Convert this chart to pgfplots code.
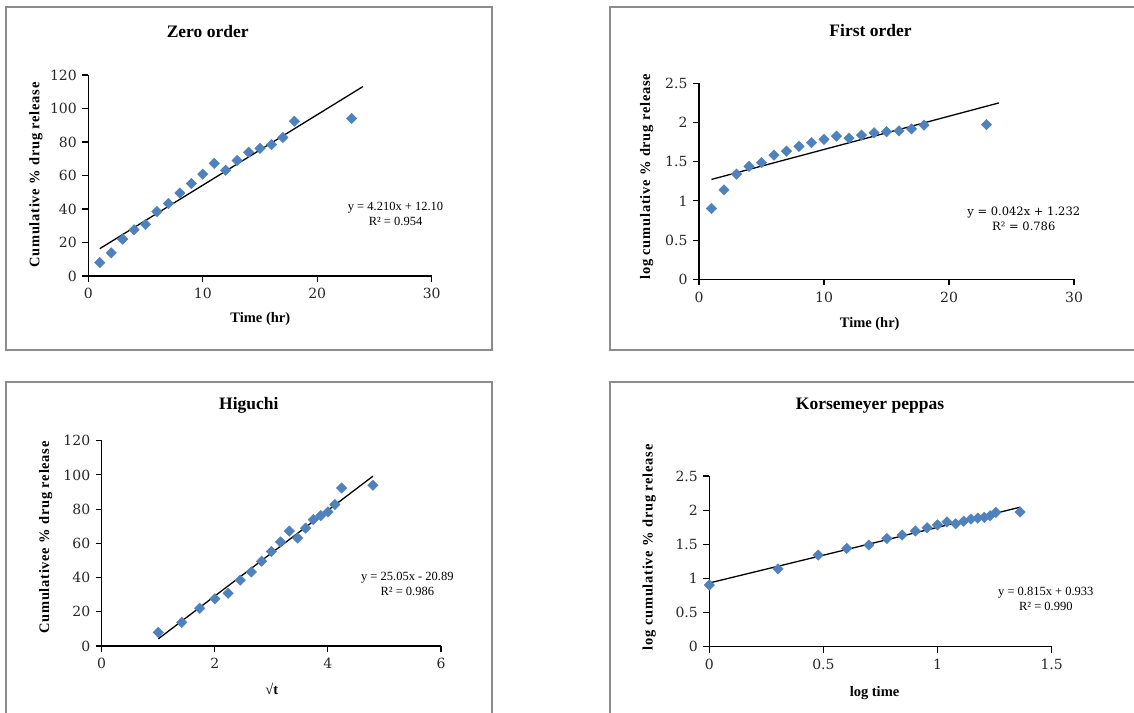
\documentclass[border=0pt]{standalone}
\usepackage{fontspec}
\setmainfont{Liberation Serif}
\newfontfamily\tickfont{DejaVu Serif}
\usepackage{pgfplots}
\usepackage{pgfplotstable}
\pgfplotsset{compat=1.18}
\definecolor{mkblue}{HTML}{4F81BD}
\definecolor{bordergray}{HTML}{8C8C8C}

\pgfplotstableread{
t sq logt cdr logcdr
1 1.000 0.000 8.0 0.903
2 1.414 0.301 13.8 1.140
3 1.732 0.477 22.0 1.342
4 2.000 0.602 27.6 1.441
5 2.236 0.699 30.8 1.489
6 2.449 0.778 38.5 1.585
7 2.646 0.845 43.3 1.636
8 2.828 0.903 49.6 1.695
9 3.000 0.954 55.2 1.742
10 3.162 1.000 60.8 1.784
11 3.317 1.041 67.2 1.827
12 3.464 1.079 63.1 1.800
13 3.606 1.114 68.9 1.838
14 3.742 1.146 73.9 1.869
15 3.873 1.176 76.2 1.882
16 4.000 1.204 78.4 1.894
17 4.123 1.230 82.7 1.918
18 4.243 1.255 92.4 1.966
23 4.796 1.362 94.0 1.973
}\drugdata

\pgfplotsset{
  myax/.style={
    scale only axis, axis lines=left,
    axis line style={-, line width=1.3pt, black},
    tick style={line width=1.1pt, black},
    tick align=outside, major tick length=6pt,
    clip=false,
    ticklabel style={font=\tickfont\fontsize{14}{16}\selectfont, text=black!85},
    xticklabel style={yshift=-3pt},
    yticklabel style={xshift=-2pt},
    /pgf/number format/assume math mode=true,
    xmin=0, ymin=0,
  },
  mk/.style={only marks, mark=square*, mark size=3.7pt, mark options={rotate=45, fill=mkblue, draw=mkblue}},
  trend/.style={black, line width=1.3pt, no marks},
}

\newcommand\ttl{\fontsize{17.5}{20}\selectfont\bfseries}
\newcommand\lbl{\fontsize{14.5}{16}\selectfont\bfseries}
\newcommand\ylbl{\fontsize{14.5}{16}\selectfont\bfseries\addfontfeature{LetterSpace=5}}

\begin{document}
\begin{tikzpicture}
\useasboundingbox (0pt,0pt) rectangle (1134pt,712pt);
% borders
\draw[bordergray, line width=1.5pt] (6pt,705pt) rectangle (492pt,362pt);
\draw[bordergray, line width=1.5pt] (610pt,705pt) rectangle (1145pt,362pt);
\draw[bordergray, line width=1.5pt] (6pt,330pt) rectangle (492pt,-10pt);
\draw[bordergray, line width=1.5pt] (610pt,330pt) rectangle (1145pt,-10pt);

% Panel 1: Zero order
\begin{axis}[myax, at={(88.3pt,436pt)}, anchor=south west, width=343.4pt, height=201pt,
  xmax=30, ymax=120, xtick={0,10,20,30}, ytick={0,20,...,120}]
\addplot[mk] table[x=t, y=cdr]{\drugdata};
\addplot[trend] coordinates {(1,16.31) (24,113.14)};
\end{axis}

% Panel 2: First order
\begin{axis}[myax, at={(699pt,432.7pt)}, anchor=south west, width=375pt, height=196pt,
  xmax=30, ymax=2.5, xtick={0,10,20,30}, ytick={0,0.5,...,2.5}]
\addplot[mk] table[x=t, y=logcdr]{\drugdata};
\addplot[trend] coordinates {(1,1.274) (24,2.25)};
\end{axis}

% Panel 3: Higuchi
\begin{axis}[myax, at={(101.7pt,66pt)}, anchor=south west, width=339.3pt, height=205.3pt,
  xmax=6, ymax=120, xtick={0,2,4,6}, ytick={0,20,...,120}]
\addplot[mk] table[x=sq, y=cdr]{\drugdata};
\addplot[trend] coordinates {(1,4.16) (4.796,99.25)};
\end{axis}

% Panel 4: Korsemeyer peppas
\begin{axis}[myax, at={(709.3pt,65.3pt)}, anchor=south west, width=342.4pt, height=170.7pt,
  xmax=1.5, ymax=2.5, xtick={0,0.5,1,1.5}, ytick={0,0.5,...,2.5}]
\addplot[mk] table[x=logt, y=logcdr]{\drugdata};
\addplot[trend] coordinates {(0,0.933) (1.362,2.043)};
\end{axis}

% texts
\node at (207.7pt,680.3pt) {\ttl Zero order};
\node at (260.3pt,392.7pt) {\lbl Time (hr)};
\node[rotate=90] at (36pt,537pt) {\ylbl Cumulative \% drug release};
\node[align=center, font=\fontsize{12.5}{15}\selectfont] at (395.5pt,498pt) {y = 4.210x + 12.10\\R² = 0.954};

\node at (870.5pt,681pt) {\ttl First order};
\node at (869.7pt,388pt) {\lbl Time (hr)};
\node[rotate=90] at (646.7pt,535.3pt) {\ylbl log cumulative \% drug release};
\node[align=center, font=\tickfont\fontsize{11.5}{15}\selectfont] at (1023.8pt,493.5pt) {y = 0.042x + 1.232\\R² = 0.786};

\node at (248.8pt,306.3pt) {\ttl Higuchi};
\node at (271.7pt,22.7pt) {\lbl √t};
\node[rotate=90] at (45.7pt,174.5pt) {\ylbl Cumulativee \% drug release};
\node[align=center, font=\fontsize{12.5}{15}\selectfont] at (407.3pt,128pt) {y = 25.05x - 20.89\\R² = 0.986};

\node at (870pt,306pt) {\ttl Korsemeyer peppas};
\node at (874.5pt,19.3pt) {\lbl log time};
\node[rotate=90] at (649.3pt,164.8pt) {\ylbl log cumulative \% drug release};
\node[align=center, font=\fontsize{12.5}{15}\selectfont] at (1045.8pt,112.8pt) {y = 0.815x + 0.933\\R² = 0.990};
\end{tikzpicture}
\end{document}
